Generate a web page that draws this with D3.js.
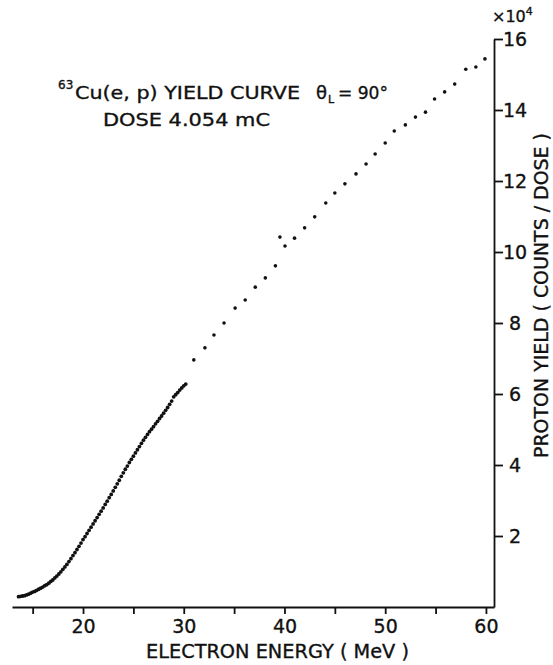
<!DOCTYPE html>
<html>
<head>
<meta charset="utf-8">
<script src="https://cdn.jsdelivr.net/npm/d3@7"></script>
<style>
  html, body { margin: 0; padding: 0; background: #fff; }
  text { font-family: "DejaVu Sans", "Liberation Sans", sans-serif; fill: #111; stroke: #111; stroke-width: 0.35px; }
</style>
</head>
<body>
<svg id="chart" width="553" height="665"></svg>
<script>
// Fine-step scan: electron energy (MeV) and proton yield (x10^4 counts/dose)
const scanEnergy = [
  13.6, 13.8, 14.0, 14.2, 14.4, 14.6, 14.8, 15.0, 15.2, 15.4, 15.6, 15.8,
  16.0, 16.2, 16.4, 16.6, 16.8, 17.0, 17.2, 17.4, 17.6, 17.8, 18.0, 18.2,
  18.4, 18.6, 18.8, 19.0, 19.2, 19.4, 19.6, 19.8, 20.0, 20.2, 20.4, 20.6,
  20.8, 21.0, 21.2, 21.4, 21.6, 21.8, 22.0, 22.2, 22.4, 22.6, 22.8, 23.0,
  23.2, 23.4, 23.6, 23.8, 24.0, 24.2, 24.4, 24.6, 24.8, 25.0, 25.2, 25.4,
  25.6, 25.8, 26.0, 26.2, 26.4, 26.6, 26.8, 27.0, 27.2, 27.4, 27.6, 27.8,
  28.0, 28.2, 28.4, 28.6, 28.8, 29.0, 29.2, 29.4, 29.6, 29.8, 30.0, 30.2
];
const scanYield = [
  0.29, 0.30, 0.31, 0.32, 0.34, 0.36, 0.39, 0.42, 0.44, 0.47, 0.50, 0.53,
  0.56, 0.60, 0.63, 0.67, 0.72, 0.76, 0.82, 0.87, 0.93, 0.99, 1.06, 1.13,
  1.20, 1.28, 1.36, 1.45, 1.53, 1.62, 1.71, 1.80, 1.90, 1.98, 2.07, 2.16,
  2.25, 2.34, 2.43, 2.52, 2.61, 2.70, 2.79, 2.89, 2.98, 3.08, 3.17, 3.27,
  3.37, 3.47, 3.57, 3.68, 3.78, 3.88, 3.97, 4.07, 4.16, 4.25, 4.34, 4.43,
  4.52, 4.61, 4.70, 4.78, 4.86, 4.94, 5.01, 5.08, 5.16, 5.23, 5.31, 5.38,
  5.46, 5.54, 5.62, 5.71, 5.80, 5.92, 5.98, 6.04, 6.11, 6.17, 6.23, 6.28
];
// Coarse 1 MeV steps above 30 MeV
const stepEnergy = [
  31.0, 32.1, 33.0, 34.0, 35.1, 36.1, 37.1, 38.1, 39.1, 39.55, 40.05,
  41.0, 42.0, 43.0, 44.1, 45.0, 46.0, 47.1, 48.1, 49.0, 50.0,
  50.9, 52.0, 53.0, 54.0, 54.9, 55.9, 56.9, 58.0, 59.0, 59.9
];
const stepYield = [
  6.96, 7.30, 7.66, 8.00, 8.42, 8.65, 9.01, 9.27, 9.61, 10.42, 10.17,
  10.39, 10.68, 10.99, 11.38, 11.66, 11.92, 12.20, 12.48, 12.76, 13.07,
  13.41, 13.58, 13.80, 13.94, 14.31, 14.51, 14.73, 15.15, 15.21, 15.44
];
const xTickValues = [15, 20, 25, 30, 35, 40, 45, 50, 55, 60];
const xTickLabels = [20, 30, 40, 50, 60];
const yTickValues = [2, 4, 6, 8, 10, 12, 14, 16];

const svg = d3.select("#chart");

const x = d3.scaleLinear().domain([12.95, 60.8]).range([12, 494]);
const y = d3.scaleLinear().domain([0, 16]).range([607, 39]);

// Bottom axis: ticks every 5 MeV, labels every 10 MeV
const xAxis = d3.axisBottom(x)
  .tickValues(xTickValues)
  .tickSize(7)
  .tickSizeOuter(0)
  .tickFormat(d => xTickLabels.includes(d) ? d : "");
const gx = svg.append("g").attr("transform", `translate(0,${y(0)})`).call(xAxis);
gx.select(".domain").attr("stroke", "#111").attr("stroke-width", 1.8);
gx.selectAll(".tick line").attr("stroke", "#111").attr("stroke-width", 1.8);
gx.selectAll(".tick text")
  .attr("font-size", 19).attr("y", 13).attr("dy", "0.71em")
  .style("font-family", "'DejaVu Sans', sans-serif").attr("fill", "#111");

// Right axis: yield ticks, labels outside
const yAxis = d3.axisRight(y)
  .tickValues(yTickValues)
  .tickSize(9)
  .tickSizeOuter(0)
  .tickFormat(d => d);
const gy = svg.append("g").attr("transform", `translate(${x.range()[1]},0)`).call(yAxis);
gy.select(".domain").attr("stroke", "#111").attr("stroke-width", 1.8);
gy.selectAll(".tick line").attr("stroke", "#111").attr("stroke-width", 1.8);
gy.selectAll(".tick text")
  .attr("font-size", 19).attr("x", 21).attr("text-anchor", "middle").attr("dy", "0.36em")
  .style("font-family", "'DejaVu Sans', sans-serif").attr("fill", "#111");

// Data points
const scan = scanEnergy.map((e, i) => ({ e, v: scanYield[i] }));
const steps = stepEnergy.map((e, i) => ({ e, v: stepYield[i] }));

svg.append("g").selectAll("circle").data(scan).join("circle")
  .attr("cx", d => x(d.e)).attr("cy", d => y(d.v)).attr("r", 1.9).attr("fill", "#111");
svg.append("g").selectAll("circle").data(steps).join("circle")
  .attr("cx", d => x(d.e)).attr("cy", d => y(d.v)).attr("r", 1.8).attr("fill", "#111");

// Axis titles
svg.append("text")
  .attr("x", 146).attr("y", 658)
  .attr("font-size", 19)
  .attr("textLength", 263).attr("lengthAdjust", "spacingAndGlyphs")
  .text("ELECTRON ENERGY ( MeV )");

svg.append("text")
  .attr("transform", "translate(548,458) rotate(-90)")
  .attr("font-size", 19)
  .attr("textLength", 325).attr("lengthAdjust", "spacingAndGlyphs")
  .text("PROTON YIELD ( COUNTS / DOSE )");

// Axis multiplier
const mult = svg.append("text").attr("x", 492).attr("y", 22).attr("font-size", 16);
mult.append("tspan").text("\u00d710");
mult.append("tspan").attr("font-size", 11).attr("dy", -7).text("4");

// Annotation
const note = svg.append("g");
note.append("text").attr("x", 58).attr("y", 89).attr("font-size", 12).text("63");
note.append("text").attr("x", 75).attr("y", 99).attr("font-size", 18)
  .attr("textLength", 225).attr("lengthAdjust", "spacingAndGlyphs")
  .text("Cu(e, p) YIELD  CURVE");
note.append("text").attr("x", 316).attr("y", 99).attr("font-size", 18).text("\u03b8");
note.append("text").attr("x", 328).attr("y", 103).attr("font-size", 11).text("L");
note.append("text").attr("x", 338).attr("y", 99).attr("font-size", 18)
  .attr("textLength", 50).attr("lengthAdjust", "spacingAndGlyphs")
  .text("= 90\u00b0");
note.append("text").attr("x", 103).attr("y", 126).attr("font-size", 18)
  .attr("textLength", 167).attr("lengthAdjust", "spacingAndGlyphs")
  .text("DOSE  4.054 mC");
</script>
</body>
</html>
